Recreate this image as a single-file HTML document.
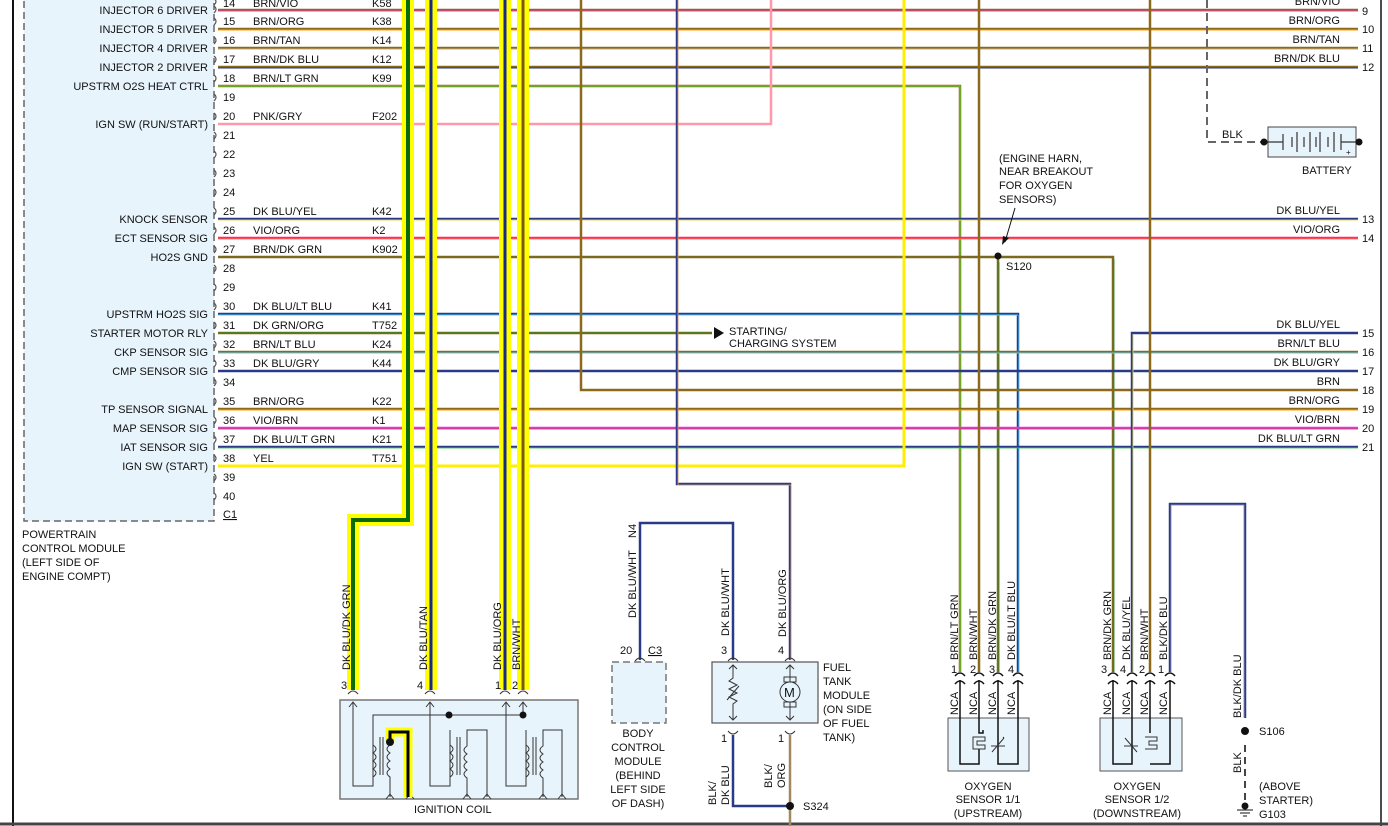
<!DOCTYPE html>
<html><head><meta charset="utf-8"><style>
html,body{margin:0;padding:0;background:#fff;}
svg{display:block;font-family:"Liberation Sans",Arial,sans-serif;font-size:11px;fill:#111;}
text{fill:#111;}
</style></head><body>
<svg width="1388" height="826" viewBox="0 0 1388 826" xmlns="http://www.w3.org/2000/svg">
<rect width="1388" height="826" fill="#fff"/>
<!-- frame -->
<line x1="13" y1="0" x2="13" y2="826" stroke="#111" stroke-width="2"/>
<line x1="1381" y1="0" x2="1381" y2="826" stroke="#111" stroke-width="1.5"/>
<line x1="0" y1="824" x2="1388" y2="824" stroke="#444" stroke-width="3"/>

<!-- PCM box -->
<rect x="24" y="-5" width="190" height="526" fill="#e8f4fc" stroke="#666" stroke-width="1.5" stroke-dasharray="7,4"/>
<g text-anchor="end">
<text x="208" y="14">INJECTOR 6 DRIVER</text>
<text x="208" y="33">INJECTOR 5 DRIVER</text>
<text x="208" y="52">INJECTOR 4 DRIVER</text>
<text x="208" y="71">INJECTOR 2 DRIVER</text>
<text x="208" y="90">UPSTRM O2S HEAT CTRL</text>
<text x="208" y="128">IGN SW (RUN/START)</text>
<text x="208" y="223">KNOCK SENSOR</text>
<text x="208" y="242">ECT SENSOR SIG</text>
<text x="208" y="261">HO2S GND</text>
<text x="208" y="318">UPSTRM HO2S SIG</text>
<text x="208" y="337">STARTER MOTOR RLY</text>
<text x="208" y="356">CKP SENSOR SIG</text>
<text x="208" y="375">CMP SENSOR SIG</text>
<text x="208" y="413">TP SENSOR SIGNAL</text>
<text x="208" y="432">MAP SENSOR SIG</text>
<text x="208" y="451">IAT SENSOR SIG</text>
<text x="208" y="470">IGN SW (START)</text>
</g>
<text x="22" y="538">POWERTRAIN</text>
<text x="22" y="552">CONTROL MODULE</text>
<text x="22" y="566">(LEFT SIDE OF</text>
<text x="22" y="580">ENGINE COMPT)</text>
<!-- connector brackets -->
<g fill="none" stroke="#555" stroke-width="1.2">
<path d="M214,-1 q4,2 0,6 M214,6 q4,3 0,7 M214,18 q4,3 0,7 M214,37 q4,3 0,7 M214,56 q4,3 0,7 M214,75 q4,3 0,7 M214,94 q4,3 0,7 M214,113 q4,3 0,7 M214,132 q4,3 0,7 M214,151 q4,3 0,7 M214,170 q4,3 0,7 M214,189 q4,3 0,7 M214,208 q4,3 0,7 M214,227 q4,3 0,7 M214,246 q4,3 0,7 M214,265 q4,3 0,7 M214,284 q4,3 0,7 M214,303 q4,3 0,7 M214,322 q4,3 0,7 M214,341 q4,3 0,7 M214,360 q4,3 0,7 M214,379 q4,3 0,7 M214,398 q4,3 0,7 M214,417 q4,3 0,7 M214,436 q4,3 0,7 M214,455 q4,3 0,7 M214,474 q4,3 0,7 M214,493 q4,3 0,7"/>
</g>
<g>
<text x="223" y="7">14</text><text x="223" y="25">15</text><text x="223" y="44">16</text><text x="223" y="63">17</text><text x="223" y="82">18</text><text x="223" y="101">19</text><text x="223" y="120">20</text><text x="223" y="139">21</text><text x="223" y="158">22</text><text x="223" y="177">23</text><text x="223" y="196">24</text><text x="223" y="215">25</text><text x="223" y="234">26</text><text x="223" y="253">27</text><text x="223" y="272">28</text><text x="223" y="291">29</text><text x="223" y="310">30</text><text x="223" y="329">31</text><text x="223" y="348">32</text><text x="223" y="367">33</text><text x="223" y="386">34</text><text x="223" y="405">35</text><text x="223" y="424">36</text><text x="223" y="443">37</text><text x="223" y="462">38</text><text x="223" y="481">39</text><text x="223" y="500">40</text>
<text x="223" y="518" text-decoration="underline">C1</text>
</g>
<g>
<text x="253" y="7">BRN/VIO</text><text x="372" y="7">K58</text>
<text x="253" y="25">BRN/ORG</text><text x="372" y="25">K38</text>
<text x="253" y="44">BRN/TAN</text><text x="372" y="44">K14</text>
<text x="253" y="63">BRN/DK BLU</text><text x="372" y="63">K12</text>
<text x="253" y="82">BRN/LT GRN</text><text x="372" y="82">K99</text>
<text x="253" y="120">PNK/GRY</text><text x="372" y="120">F202</text>
<text x="253" y="215">DK BLU/YEL</text><text x="372" y="215">K42</text>
<text x="253" y="234">VIO/ORG</text><text x="372" y="234">K2</text>
<text x="253" y="253">BRN/DK GRN</text><text x="372" y="253">K902</text>
<text x="253" y="310">DK BLU/LT BLU</text><text x="372" y="310">K41</text>
<text x="253" y="329">DK GRN/ORG</text><text x="372" y="329">T752</text>
<text x="253" y="348">BRN/LT BLU</text><text x="372" y="348">K24</text>
<text x="253" y="367">DK BLU/GRY</text><text x="372" y="367">K44</text>
<text x="253" y="405">BRN/ORG</text><text x="372" y="405">K22</text>
<text x="253" y="424">VIO/BRN</text><text x="372" y="424">K1</text>
<text x="253" y="443">DK BLU/LT GRN</text><text x="372" y="443">K21</text>
<text x="253" y="462">YEL</text><text x="372" y="462">T751</text>
</g>

<!-- horizontal wires -->
<g fill="none" stroke-width="2.5">
<path d="M218,10 H1358" stroke="#8a6a1a"/><path d="M218,11 H1358" stroke="#ff33cc" stroke-width="1"/>
<path d="M218,29 H1358" stroke="#8a6a1a"/><path d="M218,30 H1358" stroke="#ff9900" stroke-width="1"/>
<path d="M218,48 H1358" stroke="#8a6a1a"/><path d="M218,49 H1358" stroke="#c8a878" stroke-width="1"/>
<path d="M218,67 H1358" stroke="#8a6a1a"/><path d="M218,68 H1358" stroke="#223388" stroke-width="1"/>
<path d="M218,86 H960 V672" stroke="#8a6a1a"/><path d="M218,86 H960 V672" stroke="#55dd33" stroke-width="1"/>
<path d="M218,124 H771 V0" stroke="#ff99aa"/>
<path d="M218,219 H1358" stroke="#2a3a88"/><path d="M218,220 H1358" stroke="#ffee44" stroke-width="0.8"/>
<path d="M218,238 H1358" stroke="#ff2288"/><path d="M218,239 H1358" stroke="#ff9900" stroke-width="0.8"/>
<path d="M218,257 H998 V672" stroke="#7a6a20"/><path d="M998,257 H1113 V672" stroke="#7a6a20"/><path d="M999,262 V672 M1114,259 V672" stroke="#2a8a2a" stroke-width="0.8"/>
<path d="M218,314 H1018 V672" stroke="#2a3a88"/><path d="M218,315 H1018" stroke="#44ccff" stroke-width="1"/><path d="M1019,315 V672" stroke="#44ccff" stroke-width="1"/>
<path d="M218,333 H712" stroke="#8a6a1a"/><path d="M218,333 H712" stroke="#228822" stroke-width="1"/>
<path d="M218,352 H1358" stroke="#8a6a1a"/><path d="M218,353 H1358" stroke="#55ccff" stroke-width="1"/>
<path d="M218,371 H1358" stroke="#2a3a88"/>
<path d="M581,0 V390 H1358" stroke="#8a6a1a"/>
<path d="M218,409 H1358" stroke="#8a6a1a"/><path d="M218,410 H1358" stroke="#ff9900" stroke-width="1"/>
<path d="M218,428 H1358" stroke="#ff22ee"/><path d="M218,429 H1358" stroke="#8a6a1a" stroke-width="0.8"/>
<path d="M218,447 H1358" stroke="#2a3a88"/><path d="M218,448 H1358" stroke="#55dd55" stroke-width="0.8"/>
<path d="M218,466 H904 V0" stroke="#ffee00" stroke-width="3"/>
<path d="M1358,333 H1132 V672" stroke="#2a3a88"/><path d="M1133,334 V672" stroke="#ffee44" stroke-width="0.8"/>
<path d="M677,0 V484 H790 V660" stroke="#2a3a88"/><path d="M678,0 V485 H791 V660" stroke="#e8a060" stroke-width="0.8"/>
<path d="M979,0 V672" stroke="#8a6a1a"/>
<path d="M1150,0 V672" stroke="#8a6a1a"/>
<path d="M1170,672 V504 H1245 V718" stroke="#2a3a88"/><path d="M1171,672 V505 H1244 V718" stroke="#99a" stroke-width="0.8"/>
<path d="M640,660 V523 H733 V660" stroke="#2a3a88"/>
<path d="M733,735 V806 H790" stroke="#2a3a88"/>
<path d="M790,735 V826" stroke="#a08860"/>
</g>
<polygon points="714,327 724,333 714,339" fill="#111"/>
<text x="729" y="335">STARTING/</text>
<text x="729" y="347">CHARGING SYSTEM</text>

<!-- highlighted verticals -->
<g fill="none" stroke-linejoin="miter">
<path d="M408,0 V520 H353 V690" stroke="#ffff00" stroke-width="12"/>
<path d="M408,0 V520 H353 V690" stroke="#0a6a0a" stroke-width="4"/>
<path d="M431,0 V690" stroke="#ffff00" stroke-width="12"/><path d="M431,0 V690" stroke="#1a2a88" stroke-width="3"/>
<path d="M505,0 V690" stroke="#ffff00" stroke-width="12"/><path d="M505,0 V690" stroke="#1a2a88" stroke-width="3"/>
<path d="M523,0 V690" stroke="#ffff00" stroke-width="12"/><path d="M523,0 V690" stroke="#7a5a10" stroke-width="3"/>
</g>

<!-- right labels -->
<g text-anchor="end">
<text x="1340" y="5">BRN/VIO</text>
<text x="1340" y="24">BRN/ORG</text>
<text x="1340" y="43">BRN/TAN</text>
<text x="1340" y="62">BRN/DK BLU</text>
<text x="1340" y="214">DK BLU/YEL</text>
<text x="1340" y="233">VIO/ORG</text>
<text x="1340" y="328">DK BLU/YEL</text>
<text x="1340" y="347">BRN/LT BLU</text>
<text x="1340" y="366">DK BLU/GRY</text>
<text x="1340" y="385">BRN</text>
<text x="1340" y="404">BRN/ORG</text>
<text x="1340" y="423">VIO/BRN</text>
<text x="1340" y="442">DK BLU/LT GRN</text>
</g>
<g>
<text x="1362" y="15">9</text><text x="1362" y="33">10</text><text x="1362" y="52">11</text><text x="1362" y="71">12</text>
<text x="1362" y="223">13</text><text x="1362" y="242">14</text><text x="1362" y="337">15</text><text x="1362" y="356">16</text>
<text x="1362" y="375">17</text><text x="1362" y="394">18</text><text x="1362" y="413">19</text><text x="1362" y="432">20</text><text x="1362" y="451">21</text>
</g>

<!-- battery -->
<path d="M1207,0 V142 H1263" fill="none" stroke="#666" stroke-width="2" stroke-dasharray="8,5"/>
<text x="1222" y="138">BLK</text>
<rect x="1268" y="127" width="88" height="30" fill="#e8f4fc" stroke="#444"/>
<g stroke="#333" stroke-width="1.2">
<line x1="1264" y1="142" x2="1283" y2="142"/><line x1="1341" y1="142" x2="1360" y2="142"/>
<line x1="1283" y1="134" x2="1283" y2="150"/><line x1="1292" y1="137" x2="1292" y2="147"/><line x1="1297" y1="132" x2="1297" y2="152"/><line x1="1304" y1="137" x2="1304" y2="147"/><line x1="1310" y1="132" x2="1310" y2="152"/><line x1="1316" y1="137" x2="1316" y2="147"/><line x1="1320" y1="132" x2="1320" y2="152"/><line x1="1328" y1="137" x2="1328" y2="147"/><line x1="1334" y1="132" x2="1334" y2="152"/><line x1="1341" y1="134" x2="1341" y2="150"/>
</g>
<circle cx="1264" cy="142" r="3.5" fill="#111"/><circle cx="1359" cy="142" r="3.5" fill="#111"/>
<text x="1346" y="155" font-size="8">+</text>
<text x="1302" y="174">BATTERY</text>

<!-- S120 -->
<text x="999" y="162">(ENGINE HARN,</text>
<text x="999" y="175">NEAR BREAKOUT</text>
<text x="999" y="189">FOR OXYGEN</text>
<text x="999" y="203">SENSORS)</text>
<line x1="1015" y1="208" x2="1005" y2="242" stroke="#111"/>
<polygon points="1002,245 1003,236 1009,238" fill="#111"/>
<circle cx="998" cy="256" r="3.5" fill="#111"/>
<text x="1006" y="270">S120</text>

<!-- ignition coil -->
<g font-size="11">
<text transform="translate(350,670) rotate(-90)">DK BLU/DK GRN</text>
<text transform="translate(427,670) rotate(-90)">DK BLU/TAN</text>
<text transform="translate(501,670) rotate(-90)">DK BLU/ORG</text>
<text transform="translate(520,670) rotate(-90)">BRN/WHT</text>
<text x="341" y="689">3</text><text x="417" y="689">4</text><text x="495" y="689">1</text><text x="512" y="689">2</text>
</g>
<rect x="340" y="700" width="238" height="99" fill="#e8f4fc" stroke="#777" stroke-width="1.5"/>
<g fill="none" stroke="#333" stroke-width="1">
<path d="M348,694 q5,-6 10,0 M425,694 q5,-6 10,0 M500,694 q5,-6 10,0 M518,694 q5,-6 10,0"/>
<path d="M349,707 l4,-5 l4,5 M426,707 l4,-5 l4,5 M502,707 l4,-5 l4,5 M519,707 l4,-5 l4,5"/>
<path d="M353,702 V786 H373 V715 H523 M430,702 V786 H450 V730 M506,702 V786 H526 V730 M523,702 V715"/>
<path d="M373,745 q6,4 0,8 q6,4 0,8 q6,4 0,8 q6,4 0,8"/>
<path d="M450,745 q6,4 0,8 q6,4 0,8 q6,4 0,8 q6,4 0,8"/>
<path d="M526,745 q6,4 0,8 q6,4 0,8 q6,4 0,8 q6,4 0,8"/>
<path d="M380,737 V775 M383,737 V775 M457,737 V775 M460,737 V775 M533,737 V775 M536,737 V775"/>
<path d="M390,745 q-6,4 0,8 q-6,4 0,8 q-6,4 0,8 q-6,4 0,8 V797"/>
<path d="M467,797 V778 q-6,-4 0,-8 q-6,-4 0,-8 q-6,-4 0,-8 q-6,-4 0,-8 V730 H487 V797"/>
<path d="M543,797 V778 q-6,-4 0,-8 q-6,-4 0,-8 q-6,-4 0,-8 q-6,-4 0,-8 V730 H562 V797"/>
<path d="M386,799 l4,-5 l4,5 M406,799 l4,-5 l4,5 M463,799 l4,-5 l4,5 M483,799 l4,-5 l4,5 M539,799 l4,-5 l4,5 M558,799 l4,-5 l4,5"/>
</g>
<path d="M390,742 V732 H408 V797" fill="none" stroke="#ffff00" stroke-width="9"/>
<path d="M390,742 V732 H408 V797" fill="none" stroke="#000" stroke-width="3"/>
<circle cx="390" cy="742" r="4" fill="#111"/>
<circle cx="449" cy="715" r="3.5" fill="#111"/><circle cx="523" cy="715" r="3.5" fill="#111"/>
<text x="414" y="813">IGNITION COIL</text>

<!-- BCM -->
<text transform="translate(636,618) rotate(-90)">DK BLU/WHT</text>
<text transform="translate(636,538) rotate(-90)">N4</text>
<text x="620" y="654">20</text><text x="648" y="654" text-decoration="underline">C3</text>
<path d="M635,661 q5,-6 10,0" fill="none" stroke="#333"/>
<rect x="612" y="662" width="54" height="61" fill="#e8f4fc" stroke="#777" stroke-width="1.5" stroke-dasharray="7,4"/>
<g text-anchor="middle"><text x="638" y="737">BODY</text><text x="638" y="751">CONTROL</text><text x="638" y="765">MODULE</text><text x="638" y="779">(BEHIND</text><text x="638" y="793">LEFT SIDE</text><text x="638" y="807">OF DASH)</text></g>

<!-- Fuel tank -->
<text transform="translate(729,636) rotate(-90)">DK BLU/WHT</text>
<text transform="translate(786,637) rotate(-90)">DK BLU/ORG</text>
<text x="721" y="654">3</text><text x="778" y="654">4</text>
<path d="M728,661 q5,-6 10,0 M785,661 q5,-6 10,0 M728,731 q5,6 10,0 M785,731 q5,6 10,0" fill="none" stroke="#333"/>
<rect x="712" y="662" width="106" height="61" fill="#e8f4fc" stroke="#555" stroke-width="1.2"/>
<g fill="none" stroke="#333">
<path d="M733,665 V678 l-4,3 l8,4 l-8,4 l8,4 l-8,4 l8,4 l-4,3 V720 M729,669 l4,-4 l4,4 M729,716 l4,4 l4,-4 M727,700 l12,-14"/>
<path d="M790,665 V682 M790,702 V720 M786,669 l4,-4 l4,4 M786,716 l4,4 l4,-4"/>
<rect x="784" y="677" width="12" height="5"/><rect x="784" y="702" width="12" height="5"/>
<circle cx="790" cy="692" r="10" fill="#e8f4fc"/>
</g>
<text x="784" y="697" font-size="13">M</text>
<text x="823" y="671">FUEL</text><text x="823" y="685">TANK</text><text x="823" y="699">MODULE</text><text x="823" y="713">(ON SIDE</text><text x="823" y="727">OF FUEL</text><text x="823" y="741">TANK)</text>
<text x="721" y="742">1</text><text x="778" y="742">1</text>
<text transform="translate(716,805) rotate(-90)">BLK/</text>
<text transform="translate(729,805) rotate(-90)">DK BLU</text>
<text transform="translate(772,788) rotate(-90)">BLK/</text>
<text transform="translate(785,788) rotate(-90)">ORG</text>
<circle cx="790" cy="806" r="4" fill="#111"/>
<text x="803" y="810">S324</text>

<!-- Oxygen sensor 1/1 -->
<g>
<text transform="translate(958,660) rotate(-90)">BRN/LT GRN</text>
<text transform="translate(977,660) rotate(-90)">BRN/WHT</text>
<text transform="translate(996,660) rotate(-90)">BRN/DK GRN</text>
<text transform="translate(1015,660) rotate(-90)">DK BLU/LT BLU</text>
<text x="951" y="673">1</text><text x="970" y="673">2</text><text x="989" y="673">3</text><text x="1008" y="673">4</text>
<text transform="translate(958,715) rotate(-90)">NCA</text><text transform="translate(977,715) rotate(-90)">NCA</text>
<text transform="translate(996,715) rotate(-90)">NCA</text><text transform="translate(1015,715) rotate(-90)">NCA</text>
</g>
<rect x="948" y="718" width="81" height="53" fill="#e8f4fc" stroke="#555"/>
<g fill="none" stroke="#111" stroke-width="1.5">
<path d="M955,676 q5,-6 10,0 M974,676 q5,-6 10,0 M993,676 q5,-6 10,0 M1013,676 q5,-6 10,0"/>
<path d="M955,684 q5,-6 10,0 M974,684 q5,-6 10,0 M993,684 q5,-6 10,0 M1013,684 q5,-6 10,0"/>
<path d="M960,680 V764 H979 V747 M979,680 V733 H983 V730 M998,680 V764 H1018 V680" stroke-width="1.5"/>
</g>
<g fill="none" stroke="#333" stroke-width="1"><path d="M973,737 h12 v4 h-8 v4 h8 v4 h-12 z" fill="#e8f4fc"/><path d="M991,746 h14 M992,752 l12,-14 M1003,738 l1,-1"/></g>

<!-- Oxygen sensor 1/2 -->
<g>
<text transform="translate(1111,660) rotate(-90)">BRN/DK GRN</text>
<text transform="translate(1130,660) rotate(-90)">DK BLU/YEL</text>
<text transform="translate(1148,660) rotate(-90)">BRN/WHT</text>
<text transform="translate(1167,660) rotate(-90)">BLK/DK BLU</text>
<text x="1101" y="673">3</text><text x="1120" y="673">4</text><text x="1139" y="673">2</text><text x="1158" y="673">1</text>
<text transform="translate(1111,715) rotate(-90)">NCA</text><text transform="translate(1130,715) rotate(-90)">NCA</text>
<text transform="translate(1148,715) rotate(-90)">NCA</text><text transform="translate(1167,715) rotate(-90)">NCA</text>
</g>
<rect x="1100" y="718" width="82" height="53" fill="#e8f4fc" stroke="#555"/>
<g fill="none" stroke="#111" stroke-width="1.5">
<path d="M1108,676 q5,-6 10,0 M1127,676 q5,-6 10,0 M1145,676 q5,-6 10,0 M1165,676 q5,-6 10,0"/>
<path d="M1108,684 q5,-6 10,0 M1127,684 q5,-6 10,0 M1145,684 q5,-6 10,0 M1165,684 q5,-6 10,0"/>
<path d="M1113,680 V764 H1132 V680 M1150,680 V733 M1150,764 H1170 V680"/>
</g>
<g fill="none" stroke="#333" stroke-width="1"><path d="M1145,737 h12 v4 h-8 v4 h8 v4 h-12" fill="#e8f4fc"/><path d="M1124,746 h14 M1125,738 l12,14"/></g>
<g text-anchor="middle">
<text x="988" y="790">OXYGEN</text><text x="988" y="803">SENSOR 1/1</text><text x="988" y="817">(UPSTREAM)</text>
<text x="1137" y="790">OXYGEN</text><text x="1137" y="803">SENSOR 1/2</text><text x="1137" y="817">(DOWNSTREAM)</text>
</g>

<!-- S106 / G103 -->
<text transform="translate(1241,718) rotate(-90)">BLK/DK BLU</text>
<circle cx="1245" cy="731" r="4" fill="#111"/>
<text x="1259" y="735">S106</text>
<path d="M1245,745 V802" stroke="#444" stroke-width="2" stroke-dasharray="7,5"/>
<text transform="translate(1241,773) rotate(-90)">BLK</text>
<circle cx="1245" cy="806" r="3.5" fill="#111"/>
<path d="M1237,810 h16 M1240,813 h10 M1243,816 h4" stroke="#111"/>
<text x="1259" y="790">(ABOVE</text><text x="1259" y="804">STARTER)</text><text x="1259" y="818">G103</text>
</svg>
</body></html>
